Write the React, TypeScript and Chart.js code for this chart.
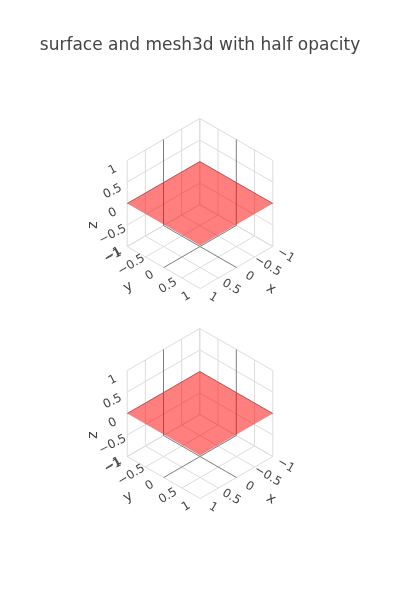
import React, { useEffect, useRef } from "react";
import { Chart, registerables } from "chart.js";

Chart.register(...registerables);

// ---------- data ----------
const TITLE = "surface and mesh3d with half opacity";
const tickValues = [-1, -0.5, 0, 0.5, 1];
const tickText = ["\u22121", "\u22120.5", "0", "0.5", "1"];
const axisTitles = ["x", "y", "z"];

// surface trace (scene 1)
const surfaceX = [-1, 1];
const surfaceY = [-1, 1];
const surfaceZ = [
  [0, 0],
  [0, 0],
];

// mesh3d trace (scene 2)
const meshX = [-1, 1, 1, -1];
const meshY = [-1, -1, 1, 1];
const meshZ = [0, 0, 0, 0];
const meshI = [0, 0];
const meshJ = [1, 2];
const meshK = [2, 3];

const traceColor = "rgba(255,0,0,0.5)";

// ---------- layout (projection of each 3D scene) ----------
const SCENES = [
  { cx: 200, cy: 203.5 },
  { cx: 200, cy: 413.5 },
];
const EX = [-36.3, 21];
const EY = [36.5, 21];
const EZ = [0, -43];

const GRID = "rgb(220,220,220)";
const ZERO = "rgb(125,125,125)";
const TEXT = "#444";
const FONT = '"DejaVu Sans", Verdana, sans-serif';

type P3 = [number, number, number];

function proj(p: P3, s: { cx: number; cy: number }) {
  return {
    x: s.cx + p[0] * EX[0] + p[1] * EY[0] + p[2] * EZ[0],
    y: s.cy + p[0] * EX[1] + p[1] * EY[1] + p[2] * EZ[1],
  };
}

function lineDs(a: P3, b: P3, s: any, color: string, order: number) {
  return {
    type: "scatter" as const,
    data: [proj(a, s), proj(b, s)],
    showLine: true,
    borderColor: color,
    borderWidth: 1,
    pointRadius: 0,
    fill: false,
    order,
  };
}

function buildDatasets() {
  const ds: any[] = [];
  SCENES.forEach((s, si) => {
    const lo = tickValues[0];
    const hi = tickValues[tickValues.length - 1];
    tickValues.forEach((t) => {
      const c = t === 0 ? ZERO : GRID;
      const o = t === 0 ? 2 : 3;
      // wall y = lo : x lines (vertical) and z lines
      ds.push(lineDs([t, lo, lo], [t, lo, hi], s, c, o));
      ds.push(lineDs([lo, lo, t], [hi, lo, t], s, c, o));
      // wall x = lo : y lines and z lines
      ds.push(lineDs([lo, t, lo], [lo, t, hi], s, c, o));
      ds.push(lineDs([lo, lo, t], [lo, hi, t], s, c, o));
      // floor z = lo : x lines and y lines
      ds.push(lineDs([t, lo, lo], [t, hi, lo], s, c, o));
      ds.push(lineDs([lo, t, lo], [hi, t, lo], s, c, o));
    });
    let poly: P3[] = [];
    if (si === 0) {
      poly = [
        [surfaceX[0], surfaceY[0], surfaceZ[0][0]],
        [surfaceX[1], surfaceY[0], surfaceZ[0][1]],
        [surfaceX[1], surfaceY[1], surfaceZ[1][1]],
        [surfaceX[0], surfaceY[1], surfaceZ[1][0]],
      ];
    } else {
      meshI.forEach((_, f) => {
        [meshI[f], meshJ[f], meshK[f]].forEach((v) =>
          poly.push([meshX[v], meshY[v], meshZ[v]])
        );
      });
    }
    ds.push({
      type: "scatter" as const,
      data: poly.map((p) => proj(p, s)),
      showLine: true,
      borderWidth: 0,
      borderColor: "rgba(0,0,0,0)",
      backgroundColor: traceColor,
      pointRadius: 0,
      fill: "shape",
      order: 1,
    });
  });
  return ds;
}

const labelPlugin = {
  id: "scene3dLabels",
  afterDatasetsDraw(chart: any) {
    const ctx = chart.ctx as CanvasRenderingContext2D;
    const xs = chart.scales.x;
    const ys = chart.scales.y;
    const put = (p: P3, s: any, dx: number, dy: number, text: string, deg: number, size: number) => {
      const q = proj(p, s);
      const px = xs.getPixelForValue(q.x) + dx;
      const py = ys.getPixelForValue(q.y) + dy;
      ctx.save();
      ctx.translate(px, py);
      ctx.rotate((deg * Math.PI) / 180);
      ctx.font = `${size}px ${FONT}`;
      ctx.fillStyle = TEXT;
      ctx.textAlign = "center";
      ctx.textBaseline = "middle";
      ctx.fillText(text, 0, 0);
      ctx.restore();
    };
    SCENES.forEach((s) => {
      tickValues.forEach((t, i) => {
        put([t, 1, -1], s, 13, 9, tickText[i], 31, 12);
        put([1, t, -1], s, -14, 8, tickText[i], -31, 12);
        put([1, -1, t], s, -14.5, 9.5, tickText[i], -27, 12);
      });
      put([0, 1, -1], s, 34.5, 21.5, axisTitles[0], 31, 14);
      put([1, 0, -1], s, -35.5, 19.5, axisTitles[1], -31, 14);
      put([1, -1, 0], s, -34, 21.5, axisTitles[2], -90, 14);
    });
    ctx.save();
    ctx.font = `17px ${FONT}`;
    ctx.fillStyle = TEXT;
    ctx.textAlign = "center";
    ctx.textBaseline = "alphabetic";
    ctx.fillText(TITLE, 200, 49.5);
    ctx.restore();
  },
};

export default function App() {
  const ref = useRef<HTMLCanvasElement | null>(null);
  useEffect(() => {
    document.body.style.margin = "0";
    if (!ref.current) return;
    const chart = new Chart(ref.current, {
      type: "scatter",
      data: { datasets: buildDatasets() },
      options: {
        animation: false,
        responsive: false,
        maintainAspectRatio: false,
        layout: { padding: 0 },
        plugins: {
          legend: { display: false },
          tooltip: { enabled: false },
          title: { display: false },
        },
        scales: {
          x: { type: "linear", min: 0, max: 400, display: false },
          y: { type: "linear", min: 0, max: 600, reverse: true, display: false },
        },
        elements: { line: { tension: 0 } },
      },
      plugins: [labelPlugin],
    });
    return () => chart.destroy();
  }, []);
  return (
    <div style={{ width: 400, height: 600, background: "#fff" }}>
      <canvas ref={ref} width={400} height={600} style={{ display: "block" }} />
    </div>
  );
}
